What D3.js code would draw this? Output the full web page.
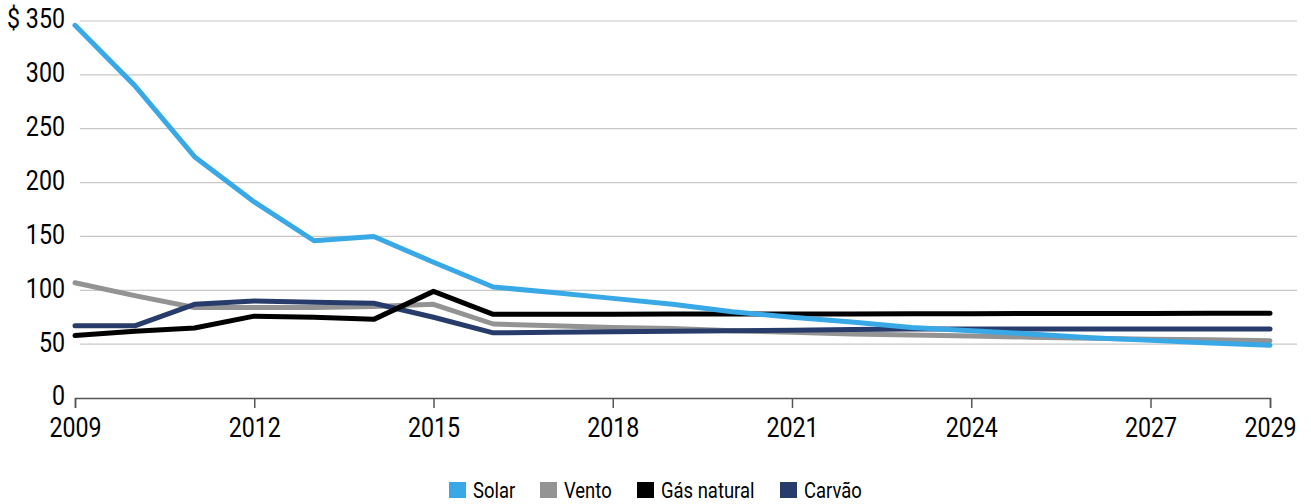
<!DOCTYPE html>
<html>
<head>
<meta charset="utf-8">
<script src="https://cdn.jsdelivr.net/npm/d3@7"></script>
<style>
  body { margin: 0; background: #fff; }
  svg text { font-family: Roboto, "DejaVu Sans Condensed", sans-serif; fill: #000; }
</style>
</head>
<body>
<div id="chart"></div>
<script>
const years = d3.range(2009, 2030);
const solar  = [346, 290, 224, 182, 146, 150, 126, 103, 98, 92.5, 87, 80, 75, 70.5, 65.5, 62.5, 59.5, 56, 53.5, 51, 49];
const vento  = [107, 95, 84, 84, 84, 85, 87, 68.7, 67, 65.5, 64.5, 62.5, 61, 59.5, 58.5, 57.5, 56.5, 55.5, 54.5, 54, 53.2];
const gas    = [58, 62, 65, 76, 75, 73, 99, 77.7, 77.7, 77.8, 77.9, 78, 78, 78.1, 78.2, 78.3, 78.4, 78.5, 78.5, 78.6, 78.6];
const carvao = [67, 67, 87, 90, 89, 88, 75, 60.5, 61, 61.5, 62, 62.5, 63, 63.5, 64, 64, 64, 64, 64, 64, 64];

const seriesNames = ["Solar", "Vento", "Gás natural", "Carvão"];
const seriesColors = ["#38a9e6", "#939393", "#000000", "#283c6c"];
const yTicks = [0, 50, 100, 150, 200, 250, 300, 350];
const xTicks = [2009, 2012, 2015, 2018, 2021, 2024, 2027, 2029];

const W = 1311, H = 504;
const narrow = 0.86; // squeeze text to mimic the condensed face

const svg = d3.select("#chart").append("svg")
  .attr("width", W)
  .attr("height", H);

const x = d3.scaleLinear().domain([2009, 2029]).range([75, 1270]);
const y = d3.scaleLinear().domain([0, 350]).range([398, 21]);

// grid lines
svg.append("g").selectAll("line")
  .data(yTicks.filter(d => d > 0))
  .join("line")
  .attr("x1", 80).attr("x2", 1297)
  .attr("y1", d => y(d)).attr("y2", d => y(d))
  .attr("stroke", "#c8c8c8")
  .attr("stroke-width", 1.2);

// y labels
svg.append("g").selectAll("g")
  .data(yTicks)
  .join("g")
  .attr("transform", d => `translate(65,${y(d) - 2}) scale(${narrow},1)`)
  .append("text")
  .attr("dy", "0.35em")
  .attr("text-anchor", "end")
  .style("font-size", "27px")
  .text(d => d === 350 ? "$ 350" : d);

// x axis
const xAxis = svg.append("g")
  .attr("transform", `translate(0,${y(0)})`)
  .call(d3.axisBottom(x).tickValues(xTicks).tickFormat(d3.format("d")).tickSize(10).tickPadding(10));
xAxis.select(".domain").attr("stroke", "#555").attr("stroke-width", 1.5);
xAxis.selectAll(".tick line").attr("stroke", "#555").attr("stroke-width", 1.5);
xAxis.selectAll(".tick text")
  .style("font-size", "27px")
  .style("font-family", 'Roboto, "DejaVu Sans Condensed", sans-serif')
  .attr("fill", "#000")
  .attr("transform", `scale(${narrow},1)`);

const line = d3.line()
  .x((d, i) => x(years[i]))
  .y(d => y(d));

const allSeries = [solar, vento, gas, carvao];
// draw order so the light lines sit where the reference shows them
[1, 3, 2, 0].forEach(k => {
  svg.append("path")
    .datum(allSeries[k])
    .attr("fill", "none")
    .attr("stroke", seriesColors[k])
    .attr("stroke-width", 5)
    .attr("stroke-linejoin", "round")
    .attr("stroke-linecap", "round")
    .attr("d", line);
});

// legend
const legendX = [449, 540, 637, 780];
const legend = svg.append("g");
seriesNames.forEach((name, i) => {
  legend.append("rect")
    .attr("x", legendX[i]).attr("y", 482)
    .attr("width", 17).attr("height", 16)
    .attr("fill", seriesColors[i]);
  legend.append("g")
    .attr("transform", `translate(${legendX[i] + 24},498) scale(0.82,1)`)
    .append("text")
    .style("font-size", "22.5px")
    .text(name);
});
</script>
</body>
</html>
